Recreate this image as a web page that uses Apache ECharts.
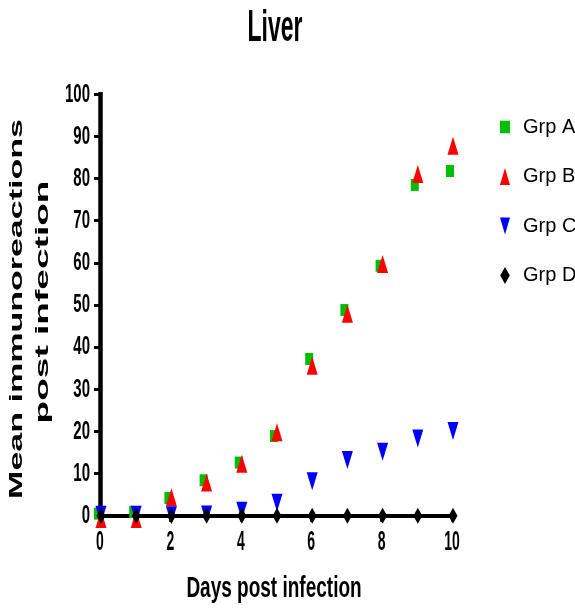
<!DOCTYPE html>
<html>
<head>
<meta charset="utf-8">
<script src="https://cdn.jsdelivr.net/npm/echarts@6/dist/echarts.min.js"></script>
<style>
html,body{margin:0;padding:0;background:#fff;}
#chart{width:575px;height:609px;}
</style>
</head>
<body>
<div id="chart"></div>
<script>
const days = [0, 1, 2, 3, 4, 5, 6, 7, 8, 9, 10];
const grpA = [0.5, 0.9, 4.2, 8.4, 12.6, 18.9, 37.2, 48.8, 59.3, 78.5, 81.8];
const grpB = [-0.8, -0.8, 4.4, 7.9, 12.3, 19.8, 35.6, 47.9, 59.7, 81.1, 87.8];
const grpC = [0.2, 0.2, 0.1, 0.3, 1.2, 3.1, 8.2, 13.2, 15.2, 18.3, 20.1];
const grpD = [0, 0, 0, 0, 0, 0, 0, 0, 0, 0, 0];
const seriesNames = ['Grp A', 'Grp B', 'Grp C', 'Grp D'];
const xTicks = [0, 2, 4, 6, 8, 10];
const yTicks = [0, 10, 20, 30, 40, 50, 60, 70, 80, 90, 100];
const titleText = 'Liver';
const xName = 'Days post infection';
const yNameLines = ['Mean immunoreactions', 'post infection'];

const pair = (vals) => days.map((d, i) => [d, vals[i]]);
const sans = "'Liberation Sans', Arial, sans-serif";

const chart = echarts.init(document.getElementById('chart'), null, {renderer: 'canvas'});

const option = {
  backgroundColor: '#ffffff',
  animation: false,
  grid: {left: 100, right: 123, top: 94.3, bottom: 93.3, containLabel: false},
  xAxis: {
    type: 'value', min: 0, max: 10, interval: 2,
    axisLine: {show: true, onZero: false, lineStyle: {color: '#000', width: 4, cap: 'square'}},
    axisTick: {show: true, inside: false, length: 6, lineStyle: {color: '#000', width: 3}},
    axisLabel: {show: false},
    splitLine: {show: false}
  },
  yAxis: {
    type: 'value', min: 0, max: 100, interval: 10,
    axisLine: {show: true, onZero: false, lineStyle: {color: '#000', width: 4.5, cap: 'square'}},
    axisTick: {show: true, inside: false, length: 6, lineStyle: {color: '#000', width: 3}},
    axisLabel: {show: false},
    splitLine: {show: false}
  },
  legend: {
    orient: 'vertical', left: 495, top: 112,
    itemWidth: 10, itemHeight: 17, itemGap: 29.5,
    symbolKeepAspect: true,
    textStyle: {color: '#000', fontFamily: sans, fontSize: 20, padding: [0, 0, 0, 8]},
    data: [
      {name: seriesNames[0], icon: 'path://M0,0L8,0L8,10L0,10Z'},
      {name: seriesNames[1], icon: 'path://M5,0L10,17L0,17Z'},
      {name: seriesNames[2], icon: 'path://M0,0L10,0L5,17Z'},
      {name: seriesNames[3], icon: 'path://M4.5,0L9,8L4.5,16L0,8Z'}
    ]
  },
  series: [
    {name: seriesNames[0], type: 'scatter', clip: false, symbol: 'rect', symbolSize: [8, 12], symbolOffset: [-2, 0],
     itemStyle: {color: '#00bf00', opacity: 1}, data: pair(grpA), z: 2},
    {name: seriesNames[1], type: 'scatter', clip: false, symbol: 'triangle', symbolSize: [11, 18], symbolOffset: [1, 0],
     itemStyle: {color: '#ff0000', opacity: 1}, data: pair(grpB), z: 3},
    {name: seriesNames[2], type: 'scatter', clip: false, symbol: 'triangle', symbolRotate: 180, symbolSize: [11, 18], symbolOffset: [1, 0],
     itemStyle: {color: '#0000ff', opacity: 1}, data: pair(grpC), z: 4},
    {name: seriesNames[3], type: 'scatter', clip: false, symbol: 'diamond', symbolSize: [9, 16], symbolOffset: [1, 0],
     itemStyle: {color: '#000000', opacity: 1}, data: pair(grpD), z: 5}
  ]
};
chart.setOption(option);

// Tick labels and titles drawn as (vertically stretched) text, positioned through the chart's own scales
const graphics = [];
xTicks.forEach(v => {
  const p = chart.convertToPixel({gridIndex: 0}, [v, 0]);
  graphics.push({type: 'text', x: p[0], y: p[1] + 27, scaleY: 2.0, z: 10,
    style: {text: String(v), font: 'bold 14px ' + sans, fill: '#000', textAlign: 'center', textVerticalAlign: 'middle'}});
});
yTicks.forEach(v => {
  const p = chart.convertToPixel({gridIndex: 0}, [0, v]);
  graphics.push({type: 'text', x: p[0] - 10, y: p[1], scaleY: 1.75, z: 10,
    style: {text: String(v), font: 'bold 15px ' + sans, fill: '#000', textAlign: 'right', textVerticalAlign: 'middle'}});
});
graphics.push(
  {type: 'text', x: 275, y: 29, scaleY: 1.9, z: 10,
   style: {text: titleText, font: 'bold 23px ' + sans, fill: '#000', textAlign: 'center', textVerticalAlign: 'middle'}},
  {type: 'text', x: 274, y: 589, scaleY: 1.6, z: 10,
   style: {text: xName, font: 'bold 19px ' + sans, fill: '#000', textAlign: 'center', textVerticalAlign: 'middle'}},
  {type: 'text', x: 17, y: 309, rotation: Math.PI / 2, scaleX: 1.79, z: 10,
   style: {text: yNameLines[0], font: 'bold 19px ' + sans, fill: '#000', textAlign: 'center', textVerticalAlign: 'middle'}},
  {type: 'text', x: 43, y: 302, rotation: Math.PI / 2, scaleX: 1.95, z: 10,
   style: {text: yNameLines[1], font: 'bold 19px ' + sans, fill: '#000', textAlign: 'center', textVerticalAlign: 'middle'}}
);
chart.setOption({graphic: graphics});
</script>
</body>
</html>
